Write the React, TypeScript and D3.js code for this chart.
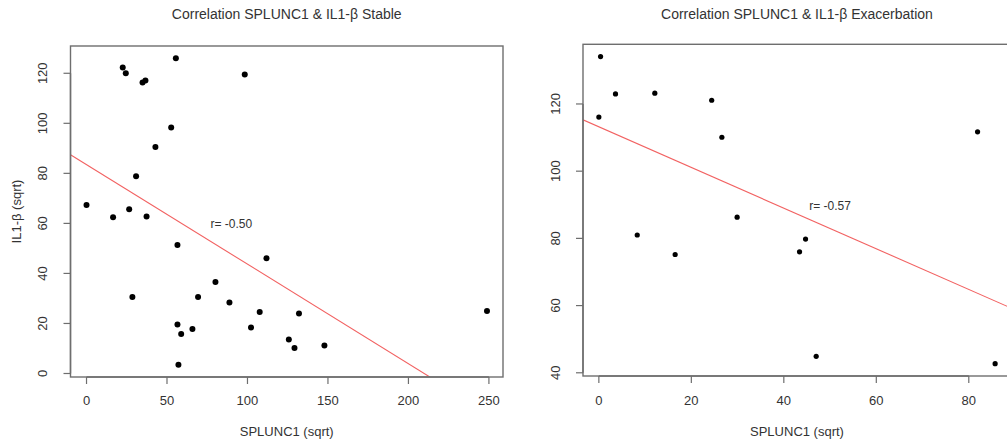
import React from "react";
import * as d3 from "d3";

// Stable panel data
const stableX = [0, 16.5, 22.5, 24.4, 26.5, 30.8, 34.8, 36.6, 37.3, 42.8, 52.6, 55.5, 98.3,
  56.5, 28.5, 80.1, 69.3, 88.8, 56.5, 58.8, 65.8, 57.1, 102.2,
  111.8, 107.6, 132, 125.7, 129.2, 147.8, 248.8];
const stableY = [67.3, 62.5, 122.3, 120, 65.6, 78.8, 116.3, 117.1, 62.8, 90.5, 98.3, 126, 119.5,
  51.4, 30.6, 36.6, 30.6, 28.4, 19.6, 15.8, 17.8, 3.5, 18.4,
  46.1, 24.6, 24.0, 13.6, 10.2, 11.2, 25.0];
const stableFit = [83.5, -0.398]; // intercept, slope
const stableR = "r= -0.50";
const stableRPos = [90, 60];
const stableXTicks = [0, 50, 100, 150, 200, 250];
const stableYTicks = [0, 20, 40, 60, 80, 100, 120];

// Exacerbation panel data
const exaX = [0.37, 0, 3.6, 12.1, 24.4, 26.6, 29.9, 8.3, 16.5, 81.9, 44.7, 43.4, 47, 85.7];
const exaY = [134.1, 116.1, 123, 123.2, 121.1, 110.1, 86.3, 81, 75.2, 111.7, 79.8, 76, 44.9, 42.7];
const exaFit = [113.2, -0.605];
const exaR = "r= -0.57";
const exaRPos = [50, 89.7];
const exaXTicks = [0, 20, 40, 60, 80];
const exaYTicks = [40, 60, 80, 100, 120];

const FONT = "'Liberation Sans', Arial, sans-serif";
const TXT = "#333";
const AX = "#6e6e6e";

function padDomain(v: number[]): [number, number] {
  const [a, b] = d3.extent(v) as [number, number];
  const p = (b - a) * 0.04;
  return [a - p, b + p];
}

type PanelProps = {
  id: string;
  title: string;
  xs: number[];
  ys: number[];
  fit: number[];
  rText: string;
  rPos: number[];
  xTicks: number[];
  yTicks: number[];
  left: number;
  right: number;
  top: number;
  bottom: number;
  yLabel?: string;
  rad: number;
};

function Panel(p: PanelProps) {
  const x = d3.scaleLinear().domain(padDomain(p.xs)).range([p.left, p.right]);
  const y = d3.scaleLinear().domain(padDomain(p.ys)).range([p.bottom, p.top]);
  const [x0, x1] = x.domain();
  const line = d3.line<number>().x((d) => x(d)).y((d) => y(p.fit[0] + p.fit[1] * d));
  const cx = (p.left + p.right) / 2;
  const cy = (p.top + p.bottom) / 2;
  const tl = 7;
  return (
    <g>
      <defs>
        <clipPath id={p.id}>
          <rect x={p.left} y={p.top} width={p.right - p.left} height={p.bottom - p.top} />
        </clipPath>
      </defs>
      <text x={cx} y={19} textAnchor="middle" fontSize={14} fill={TXT} fontFamily={FONT}>
        {p.title}
      </text>
      {p.xs.map((d, i) => (
        <circle key={i} cx={x(d)} cy={y(p.ys[i])} r={p.rad} fill="#000" />
      ))}
      <path d={line([x0, x1]) || ""} stroke="#f26262" strokeWidth={1.1} fill="none" clipPath={`url(#${p.id})`} />
      <text x={x(p.rPos[0])} y={y(p.rPos[1]) + 4.3} textAnchor="middle" fontSize={12} fill={TXT} fontFamily={FONT}>
        {p.rText}
      </text>
      <rect x={p.left} y={p.top} width={p.right - p.left} height={p.bottom - p.top} fill="none" stroke={AX} strokeWidth={1.4} />
      {/* x axis */}
      <line x1={x(p.xTicks[0])} x2={x(p.xTicks[p.xTicks.length - 1])} y1={p.bottom} y2={p.bottom} stroke={AX} strokeWidth={1.4} />
      {p.xTicks.map((t) => (
        <g key={"x" + t}>
          <line x1={x(t)} x2={x(t)} y1={p.bottom} y2={p.bottom + tl} stroke={AX} strokeWidth={1.2} />
          <text x={x(t)} y={405} textAnchor="middle" fontSize={13} fill={TXT} fontFamily={FONT}>
            {t}
          </text>
        </g>
      ))}
      {/* y axis */}
      <line x1={p.left} x2={p.left} y1={y(p.yTicks[0])} y2={y(p.yTicks[p.yTicks.length - 1])} stroke={AX} strokeWidth={1.4} />
      {p.yTicks.map((t) => (
        <g key={"y" + t}>
          <line x1={p.left - tl} x2={p.left} y1={y(t)} y2={y(t)} stroke={AX} strokeWidth={1.2} />
          <text
            transform={`translate(${p.left - 23.5},${y(t)}) rotate(-90)`}
            textAnchor="middle"
            fontSize={13}
            fill={TXT}
            fontFamily={FONT}
          >
            {t}
          </text>
        </g>
      ))}
      <text x={cx} y={436} textAnchor="middle" fontSize={13} fill={TXT} fontFamily={FONT}>
        SPLUNC1 (sqrt)
      </text>
      {p.yLabel && (
        <text
          transform={`translate(${p.left - 50},${cy}) rotate(-90)`}
          textAnchor="middle"
          fontSize={13}
          fill={TXT}
          fontFamily={FONT}
        >
          {p.yLabel}
        </text>
      )}
    </g>
  );
}

export default function App() {
  return (
    <svg
      width={1007}
      height={442}
      style={{ position: "absolute", left: 0, top: 0, background: "#fff" }}
    >
      <rect width={1007} height={442} fill="#fff" />
      <Panel
        id="clipA"
        title="Correlation SPLUNC1 & IL1-β Stable"
        xs={stableX}
        ys={stableY}
        fit={stableFit}
        rText={stableR}
        rPos={stableRPos}
        xTicks={stableXTicks}
        yTicks={stableYTicks}
        left={70.5}
        right={503}
        top={46}
        bottom={377}
        yLabel="IL1-β (sqrt)"
        rad={3}
      />
      <Panel
        id="clipB"
        title="Correlation SPLUNC1 & IL1-β Exacerbation"
        xs={exaX}
        ys={exaY}
        fit={exaFit}
        rText={exaR}
        rPos={exaRPos}
        xTicks={exaXTicks}
        yTicks={exaYTicks}
        left={583}
        right={1011}
        top={44.3}
        bottom={376}
        rad={2.6}
      />
    </svg>
  );
}
